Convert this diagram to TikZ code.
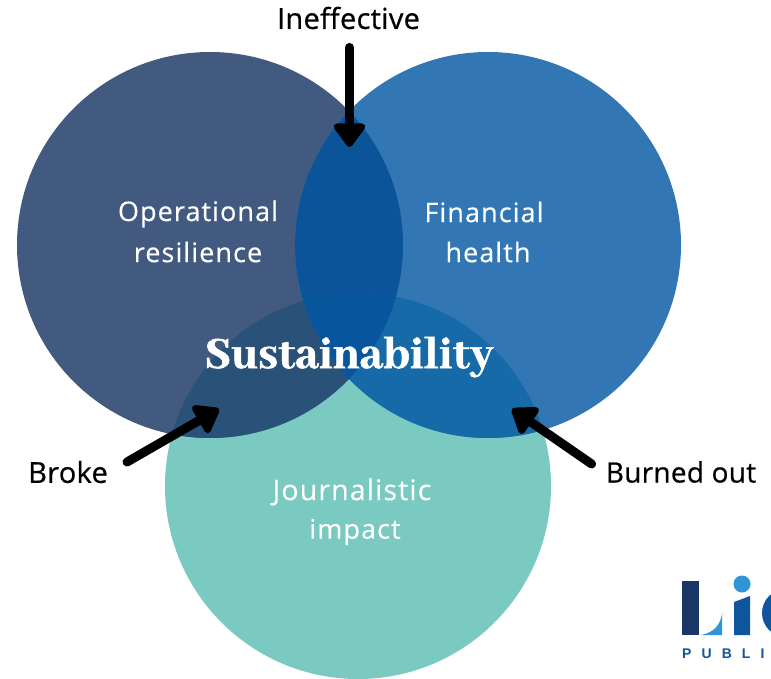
\documentclass[tikz,border=0pt]{standalone}
\usepackage{fontspec}
\usetikzlibrary{arrows.meta}
\setmainfont{Open Sans}
\newfontfamily\labelfont[LetterSpace=4,FakeBold=0.3]{Open Sans}
\newfontfamily\plainfont[LetterSpace=1,FakeBold=0.6]{Open Sans}
\newfontfamily\logofont[LetterSpace=72]{Liberation Sans}
\newfontfamily\susfont[FakeBold=1.2]{Abhaya Libre ExtraBold}
\definecolor{opcol}{HTML}{435A80}
\definecolor{fincol}{HTML}{3277B4}
\definecolor{joucol}{HTML}{7ACAC1}
\definecolor{opfin}{HTML}{0B5499}
\definecolor{opjou}{HTML}{2A5279}
\definecolor{finjou}{HTML}{166AA8}
\definecolor{allcol}{HTML}{07559C}
\definecolor{navy}{HTML}{1A3666}
\definecolor{skyb}{HTML}{2E96D6}
\definecolor{logob}{HTML}{10569F}
\tikzset{
  inner/.style={text=white,font=\labelfont\fontsize{27}{27}\selectfont,inner sep=0pt},
  outer/.style={text=black,font=\plainfont\fontsize{29}{29}\selectfont,inner sep=0pt},
  pointer/.style={line width=9pt,line cap=round,-{Triangle[round,length=26pt,width=36pt]}},
}
\def\opc{(210,245) circle[radius=193pt]}
\def\finc{(488,245) circle[radius=193pt]}
\def\jouc{(358,486) circle[radius=193pt]}
\begin{document}
\begin{tikzpicture}[x=1pt,y=-1pt]
\useasboundingbox (0,0) rectangle (771,679);
\clip (0,0) rectangle (771,679);
\fill[white] (0,0) rectangle (771,679);
% circles
\fill[joucol] \jouc;
\fill[opcol] \opc;
\fill[fincol] \finc;
\begin{scope}\clip \opc; \fill[opfin] \finc; \end{scope}
\begin{scope}\clip \opc; \fill[opjou] \jouc; \end{scope}
\begin{scope}\clip \finc; \fill[finjou] \jouc; \end{scope}
\begin{scope}\clip \opc; \clip \finc; \fill[allcol] \jouc; \end{scope}
% labels
\node[inner] (op1) at (198,214) {Operational};
\node[inner] (op2) at (198,252) {resilience};
\node[inner] (fi1) at (484,212) {Financial};
\node[inner] (fi2) at (488,252) {health};
\node[inner,font=\labelfont\fontsize{28.5}{28.5}\selectfont] (jo1) at (352,492) {Journalistic};
\node[inner] (jo2) at (355,532) {impact};
\node[text=white,font=\susfont\fontsize{49}{49}\selectfont,inner sep=0pt,anchor=base] (sus) at (349,368) {Sustainability};
\node[outer] (ine) at (348.5,18) {Ineffective};
\node[outer] (bro) at (68,472) {Broke};
\node[outer,font=\plainfont\fontsize{28}{28}\selectfont] (bur) at (681,472) {Burned out};
% connectors
\coordinate (inetip) at (349.5,147);
\coordinate (brotip) at (219,409);
\coordinate (burtip) at (512,409);
\draw[pointer] (ine.south -| inetip) ++(0,18) -- (inetip);
\draw[pointer] (bro.east) ++(19,-10) -- (brotip);
\draw[pointer] (bur.west) ++(-14,-8) -- (burtip);
% logo
\fill[navy] (682,581) rectangle (699,635);
\fill[skyb] (701,635) .. controls (713,633) and (721,625) .. (722,613) -- (722,635) -- cycle;
\fill[skyb] (742,584) circle[radius=8.5pt];
\fill[logob] (734,602) -- (750,596) -- (750,635) -- (734,635) -- cycle;
\fill[logob] (786,613) circle[radius=24pt];
\node[anchor=base west,inner sep=0pt,text=logob,font=\logofont\bfseries\fontsize{14}{14}\selectfont] (pub) at (682,658) {PUBLIS};
\end{tikzpicture}
\end{document}
